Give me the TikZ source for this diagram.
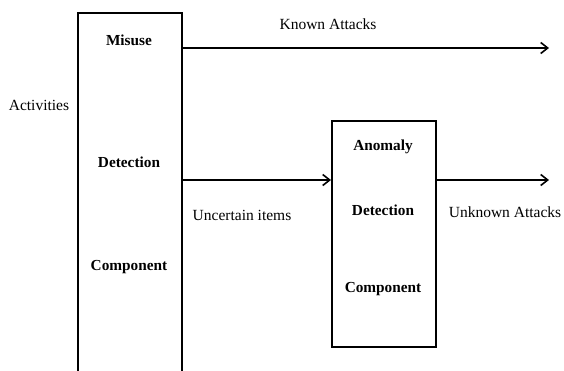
\documentclass[tikz,border=0pt]{standalone}
\usepackage{fontspec}
\setmainfont{Liberation Serif}
\usepackage{tikz}
\usetikzlibrary{arrows.meta, positioning}
\tikzset{
    blockbox/.style={draw, line width=1.6pt, rectangle, inner sep=0pt},
    blocktext/.style={font=\fontsize{15.3}{17}\selectfont\bfseries},
    labeltext/.style={font=\fontsize{15.5}{17}\selectfont},
    flow/.style={line width=1.6pt, -{Straight Barb[length=7pt, width=11pt, line width=1.6pt]}}
}

\begin{document}
\begin{tikzpicture}[x=1pt, y=-1pt]
    \useasboundingbox (0, 0) rectangle (564, 370);

    % Misuse detection block (runs off the bottom)
    \node[blockbox, minimum width=104pt, minimum height=400pt, anchor=north west] (misuse) at (77, 12) {};
    \node[blocktext] (misuse1) at (129, 40) {Misuse};
    \node[blocktext] (misuse2) at (129, 162) {Detection};
    \node[blocktext] (misuse3) at (129, 267) {Component};

    % Anomaly detection block
    \node[blockbox, minimum width=104pt, minimum height=226pt, anchor=north west] (anomaly) at (331, 120) {};
    \node[blocktext] (anomaly1) at (383, 147) {Anomaly};
    \node[blocktext] (anomaly2) at (383, 210) {Detection};
    \node[blocktext] (anomaly3) at (383, 289) {Component};

    % Labels
    \node[labeltext] (activities) at (39, 105) {Activities};
    \node[labeltext] (known) at (328, 24) {Known Attacks};
    \node[labeltext] (uncertain) at (242, 215) {Uncertain items};
    \node[labeltext] (unknown) at (505, 212) {Unknown Attacks};

    % Arrows
    \coordinate (knownend) at (549, 48);
    \coordinate (midline) at (331, 180);
    \coordinate (unknownend) at (549, 180);
    \draw[flow] (misuse.east |- knownend) -- (knownend);
    \draw[flow] (misuse.east |- midline) -- (anomaly.west |- midline);
    \draw[flow] (anomaly.east |- unknownend) -- (unknownend);
\end{tikzpicture}
\end{document}
